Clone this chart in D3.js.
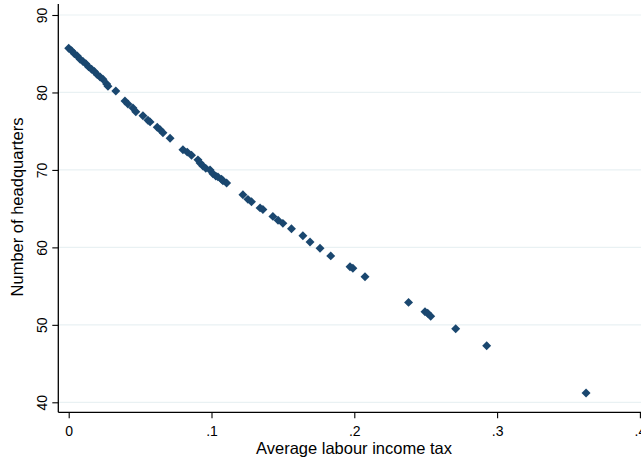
<!DOCTYPE html>
<html><head><meta charset="utf-8">
<script src="https://cdn.jsdelivr.net/npm/d3@7"></script>
<style>html,body{margin:0;padding:0;background:#fff;}svg{display:block;}</style>
</head><body>
<svg id="chart" width="641" height="459"></svg>
<script>
// Average labour income tax (x) and Number of headquarters (y)
const taxValues = [0.000,0.002,0.004,0.006,0.008,0.010,0.012,0.014,0.016,0.018,0.020,0.022,0.024,
  0.0266,0.0275,0.033,0.0394,0.0415,0.045,0.047,0.052,0.0555,0.057,0.062,0.064,0.066,0.071,
  0.080,0.083,0.086,0.0905,0.092,0.094,0.096,0.099,0.101,0.103,0.1045,0.107,0.108,0.1106,
  0.122,0.1255,0.128,0.134,0.136,0.143,0.1466,0.150,0.156,0.164,0.169,0.176,0.1835,
  0.197,0.199,0.2075,0.238,0.2495,0.2514,0.2535,0.271,0.2927,0.3623];
const hqValues = [85.7,85.4,85.0,84.7,84.3,84.0,83.7,83.3,83.0,82.7,82.3,82.0,81.7,
  81.1,80.8,80.2,78.9,78.5,78.0,77.5,77.0,76.4,76.2,75.5,75.2,74.8,74.1,
  72.6,72.3,71.9,71.3,70.9,70.5,70.2,70.0,69.5,69.2,69.1,68.8,68.6,68.3,
  66.8,66.2,65.9,65.1,64.9,64.0,63.5,63.1,62.4,61.5,60.7,59.9,58.9,
  57.5,57.3,56.2,52.9,51.7,51.5,51.1,49.5,47.3,41.2];
const xTicks = [0, 0.1, 0.2, 0.3, 0.4];
const xTickLabels = ["0", ".1", ".2", ".3", ".4"];
const yTicks = [40, 50, 60, 70, 80, 90];
const xTitle = "Average labour income tax";
const yTitle = "Number of headquarters";

const svg = d3.select("#chart");
const W = 641, H = 459;
const x = d3.scaleLinear().domain([0, 0.4]).range([68.7, 639.9]);
const y = d3.scaleLinear().domain([40, 90]).range([402.3, 15]);
const axisX = 58.3, axisY = 412.3;
const font = "'Liberation Sans', Arial, sans-serif";

// gridlines
svg.append("g").selectAll("line").data(yTicks).join("line")
  .attr("x1", axisX).attr("x2", W)
  .attr("y1", d => y(d)).attr("y2", d => y(d))
  .attr("stroke", "#e9f1f3").attr("stroke-width", 1.2);

// Y axis
const yAxis = d3.axisLeft(y).tickValues(yTicks).tickSize(6).tickPadding(4).tickFormat(d3.format("d"));
const gy = svg.append("g").attr("transform", `translate(${axisX},0)`).call(yAxis);
gy.select(".domain").attr("d", `M0,4V${axisY}`).attr("stroke", "#000").attr("stroke-width", 1.3);
gy.selectAll(".tick line").attr("stroke", "#000").attr("stroke-width", 1.1);
gy.selectAll(".tick text")
  .attr("x", null).attr("dy", null)
  .attr("transform", "translate(-11,0) rotate(-90)")
  .attr("text-anchor", "middle")
  .attr("font-family", font).attr("font-size", 14).attr("fill", "#000");

// X axis
const xAxis = d3.axisBottom(x).tickValues(xTicks).tickSize(6).tickPadding(8)
  .tickFormat((d, i) => xTickLabels[i]);
const gx = svg.append("g").attr("transform", `translate(0,${axisY})`).call(xAxis);
gx.select(".domain").attr("d", `M${axisX},0H${W}`).attr("stroke", "#000").attr("stroke-width", 1.3);
gx.selectAll(".tick line").attr("stroke", "#000").attr("stroke-width", 1.1);
gx.selectAll(".tick text").attr("font-family", font).attr("font-size", 14).attr("fill", "#000");

// points
const data = taxValues.map((t, i) => ({t, h: hqValues[i]}));
const sym = d3.symbol(d3.symbolSquare, 40);
svg.append("g").selectAll("path").data(data).join("path")
  .attr("d", sym)
  .attr("transform", d => `translate(${x(d.t)},${y(d.h)}) rotate(45)`)
  .attr("fill", "#1a476f");

// titles
svg.append("text").attr("x", 354).attr("y", 453.5).attr("text-anchor", "middle")
  .attr("font-family", font).attr("font-size", 16.5).attr("fill", "#000").text(xTitle);
svg.append("text").attr("transform", `translate(23,207) rotate(-90)`).attr("text-anchor", "middle")
  .attr("font-family", font).attr("font-size", 16.5).attr("fill", "#000").text(yTitle);
</script>
</body></html>
